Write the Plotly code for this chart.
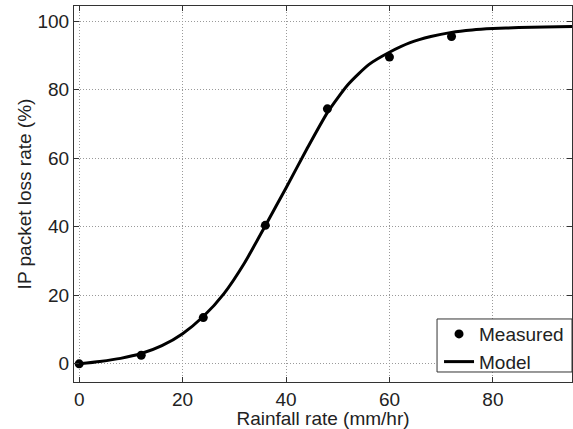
import plotly.graph_objects as go

# Measured data
meas_x = [0, 12, 24, 36, 48, 60, 72]
meas_y = [0.0, 2.5, 13.5, 40.4, 74.4, 89.5, 95.5]

# Model curve
model_x = [0, 4, 8, 12, 16, 20, 24, 28, 32, 36, 40, 44, 48, 52, 56, 60, 64, 68, 72, 76, 80, 85, 90, 95.5]
model_y = [0.0, 0.7, 1.6, 3.0, 5.3, 8.8, 13.8, 20.5, 29.5, 40.3, 51.3, 62.6, 73.3, 81.5, 87.3, 90.9, 93.7, 95.5, 96.7, 97.4, 97.8, 98.1, 98.3, 98.4]

x_ticks = [0, 20, 40, 60, 80]
y_ticks = [0, 20, 40, 60, 80, 100]

FONT = "Liberation Sans, Arial, sans-serif"
FS = 19

fig = go.Figure()
fig.add_trace(go.Scatter(x=meas_x, y=meas_y, mode="markers", name="Measured",
                         marker=dict(color="black", size=9, symbol="circle")))
fig.add_trace(go.Scatter(x=model_x, y=model_y, mode="lines", name="Model",
                         line=dict(color="black", width=3, shape="spline", smoothing=0.6)))

axis_common = dict(
    showline=True, linecolor="#333333", linewidth=1, mirror="ticks",
    ticks="inside", ticklen=5, tickcolor="#333333",
    showgrid=True, gridcolor="#9a9a9a", griddash="1px,2px", gridwidth=1,
    zeroline=False, tickfont=dict(family=FONT, size=FS, color="#222222"),
    automargin=False,
)

fig.update_layout(
    width=573, height=429,
    margin=dict(l=74, r=1, t=6, b=47),
    paper_bgcolor="white", plot_bgcolor="white",
    font=dict(family=FONT, size=FS, color="#222222"),
    xaxis=dict(range=[-1, 95.3], tickvals=x_ticks,
               title=dict(text="Rainfall rate (mm/hr)", font=dict(size=FS), standoff=0),
               **axis_common),
    yaxis=dict(range=[-5.3, 104.4], tickvals=y_ticks,
               title=dict(text="IP packet loss rate (%)", font=dict(size=FS), standoff=0),
               **axis_common),
    legend=dict(x=0.733, y=0.178, xanchor="left", yanchor="top",
                borderwidth=0, bgcolor="rgba(0,0,0,0)",
                font=dict(family=FONT, size=FS, color="#222222"),
                tracegroupgap=0, itemwidth=30),
    showlegend=True,
    shapes=[dict(type="rect", xref="paper", yref="paper",
                 x0=0.729, x1=1.0, y0=0.0266, y1=0.1676,
                 line=dict(color="#333333", width=1), fillcolor="white", layer="above")],
)

fig.write_html("out.html", config={"displayModeBar": False},
               post_script="document.body.style.margin='0px';")
